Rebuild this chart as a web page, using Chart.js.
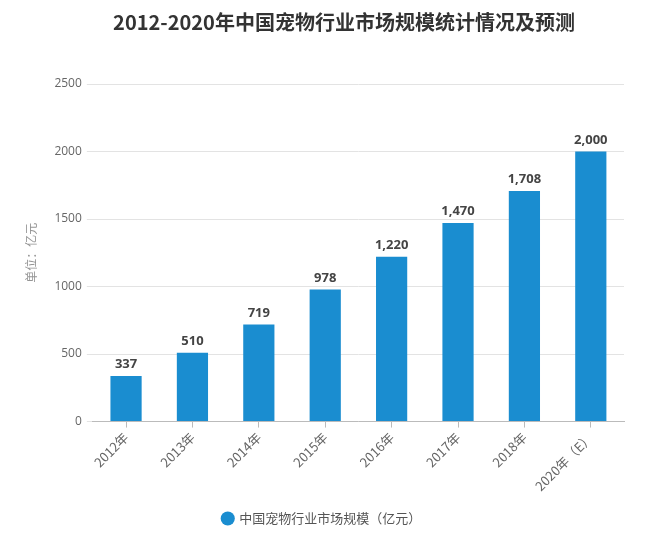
<!DOCTYPE html>
<html>
<head>
<meta charset="utf-8">
<script src="https://cdn.jsdelivr.net/npm/chart.js"></script>
<style>
  html, body { margin: 0; padding: 0; background: #ffffff; }
  #wrap { width: 652px; height: 535px; }
</style>
</head>
<body>
<div id="wrap"><canvas id="market"></canvas></div>
<script>
const years = ['2012年', '2013年', '2014年', '2015年', '2016年', '2017年', '2018年', '2020年（E）'];
const marketSize = [337, 510, 719, 978, 1220, 1470, 1708, 2000];
const yTicks = [0, 500, 1000, 1500, 2000, 2500];
const chartTitle = '2012-2020年中国宠物行业市场规模统计情况及预测';

const market = document.getElementById('market');

Chart.defaults.font.family = '"Open Sans", "Noto Sans CJK SC", sans-serif';
Chart.defaults.color = '#666666';

// title sits a little right of centre in the original
const titleText = {
  id: 'titleText',
  afterDraw(chart) {
    const ctx = chart.ctx;
    ctx.save();
    ctx.font = 'bold 20px "Noto Sans CJK SC", sans-serif';
    ctx.fillStyle = '#333333';
    ctx.textAlign = 'center';
    ctx.textBaseline = 'middle';
    ctx.fillText(chartTitle, 344, 22);
    ctx.restore();
  }
};

// numbers on top of bars
const barLabels = {
  id: 'barLabels',
  afterDatasetsDraw(chart) {
    const ctx = chart.ctx;
    const meta = chart.getDatasetMeta(0);
    ctx.save();
    ctx.font = 'bold 13px "Open Sans", sans-serif';
    ctx.fillStyle = '#444444';
    ctx.textAlign = 'center';
    ctx.textBaseline = 'bottom';
    meta.data.forEach((bar, i) => {
      ctx.fillText(marketSize[i].toLocaleString('en-US'), bar.x, bar.y - 5);
    });
    ctx.restore();
  }
};

new Chart(market, {
  type: 'bar',
  data: {
    labels: years,
    datasets: [{
      label: '中国宠物行业市场规模（亿元）',
      data: marketSize,
      backgroundColor: '#1a8dd0',
      categoryPercentage: 0.94,
      barPercentage: 0.5
    }]
  },
  options: {
    responsive: true,
    maintainAspectRatio: false,
    animation: false,
    layout: {
      padding: { left: 20, right: 28, top: 84, bottom: 0 }
    },
    plugins: {
      legend: {
        position: 'bottom',
        labels: {
          usePointStyle: true,
          pointStyle: 'circle',
          boxWidth: 10,
          boxHeight: 10,
          color: '#555555',
          font: { size: 13, family: '"Noto Sans CJK SC", sans-serif' },
          padding: 10
        }
      },
      tooltip: { enabled: false }
    },
    scales: {
      y: {
        min: 0,
        max: 2500,
        afterBuildTicks: axis => { axis.ticks = yTicks.map(v => ({ value: v })); },
        grid: {
          color: '#e3e3e3',
          tickLength: 6,
          drawTicks: true
        },
        border: { display: false },
        ticks: {
          color: '#666666',
          font: { size: 12 },
          padding: 5,
          callback: v => String(v)
        },
        title: {
          display: true,
          text: '单位：亿元',
          color: '#959595',
          font: { size: 12, family: '"Noto Sans CJK SC", sans-serif' },
          padding: { bottom: 11 }
        }
      },
      x: {
        afterFit: axis => { axis.height += 6; },
        grid: {
          display: true,
          drawOnChartArea: false,
          color: '#bbbbbb',
          tickLength: 6,
          offset: false
        },
        border: { display: true, color: '#bbbbbb' },
        ticks: {
          color: '#666666',
          font: { size: 13, family: '"Noto Sans CJK SC", sans-serif' },
          minRotation: 45,
          maxRotation: 45,
          padding: 2
        }
      }
    }
  },
  plugins: [barLabels, titleText]
});
</script>
</body>
</html>
